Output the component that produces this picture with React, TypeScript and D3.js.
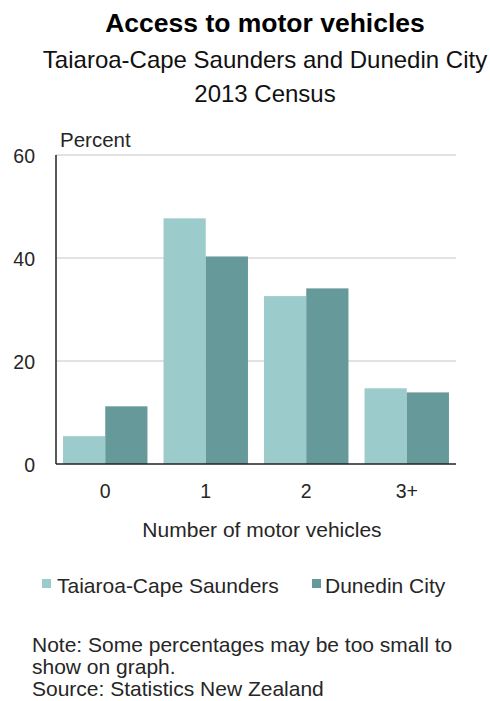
import React from "react";
import * as d3 from "d3";

const categories = ["0", "1", "2", "3+"];
const seriesNames = ["Taiaroa-Cape Saunders", "Dunedin City"];
const taiaroa = [5.4, 47.7, 32.6, 14.7];
const dunedin = [11.2, 40.3, 34.1, 13.9];
const yTicks = [0, 20, 40, 60];
const colors = ["#9BCBCB", "#669999"];
const titleText = "Access to motor vehicles";
const subtitle1 = "Taiaroa-Cape Saunders and Dunedin City";
const subtitle2 = "2013 Census";
const noteLines = [
  "Note: Some percentages may be too small to",
  "show on graph.",
  "Source: Statistics New Zealand",
];

const W = 490;
const H = 701;
const FONT = "'Liberation Sans', Arial, sans-serif";
const TXT = "#262626";

export default function App() {
  const left = 56;
  const right = 456;
  const top = 155;
  const bottom = 464;

  const x = d3
    .scaleBand<string>()
    .domain(categories)
    .range([left, right])
    .paddingInner(0.16)
    .paddingOuter(0.07);
  const x1 = d3
    .scaleBand<string>()
    .domain(seriesNames)
    .range([0, x.bandwidth()]);
  const y = d3.scaleLinear().domain([0, 60]).range([bottom, top]);

  const series = [taiaroa, dunedin];
  const legendX = [42, 312];

  return (
    <svg
      width={W}
      height={H}
      style={{ position: "absolute", left: 0, top: 0, background: "#fff" }}
      fontFamily={FONT}
    >
      <text x={265} y={32} textAnchor="middle" fontSize={26.5} fontWeight="bold" fill="#000">
        {titleText}
      </text>
      <text x={265} y={68} textAnchor="middle" fontSize={24} fill="#111">
        {subtitle1}
      </text>
      <text x={265} y={102} textAnchor="middle" fontSize={24} fill="#111">
        {subtitle2}
      </text>

      {yTicks
        .filter((t) => t > 0)
        .map((t) => (
          <line
            key={"g" + t}
            x1={left}
            x2={right}
            y1={y(t)}
            y2={y(t)}
            stroke="#d9d9d9"
            strokeWidth={1.5}
          />
        ))}

      {series.map((vals, si) =>
        categories.map((c, ci) => (
          <rect
            key={si + "-" + c}
            x={(x(c) ?? 0) + (x1(seriesNames[si]) ?? 0)}
            y={y(vals[ci])}
            width={x1.bandwidth()}
            height={y(0) - y(vals[ci])}
            fill={colors[si]}
          />
        ))
      )}

      <line x1={left} x2={left} y1={top} y2={bottom} stroke="#222" strokeWidth={1.5} />
      <line x1={left} x2={right} y1={bottom} y2={bottom} stroke="#222" strokeWidth={1.5} />

      {yTicks.map((t) => (
        <text key={"y" + t} x={35} y={y(t) + 8} textAnchor="end" fontSize={19.5} fill={TXT}>
          {t}
        </text>
      ))}
      <text x={60} y={147} fontSize={20.5} fill={TXT}>
        Percent
      </text>

      {categories.map((c) => (
        <text
          key={"x" + c}
          x={(x(c) ?? 0) + x.bandwidth() / 2}
          y={498}
          textAnchor="middle"
          fontSize={19.5}
          fill={TXT}
        >
          {c}
        </text>
      ))}
      <text x={262} y={537} textAnchor="middle" fontSize={21} fill={TXT}>
        Number of motor vehicles
      </text>

      {seriesNames.map((s, i) => (
        <g key={s}>
          <rect x={legendX[i]} y={579} width={9} height={9} fill={colors[i]} />
          <text x={legendX[i] + (i === 0 ? 15 : 13)} y={593} fontSize={21} fill={TXT}>
            {s}
          </text>
        </g>
      ))}

      {noteLines.map((l, i) => (
        <text key={i} x={32} y={652 + i * 22} fontSize={21} fill={TXT}>
          {l}
        </text>
      ))}
    </svg>
  );
}
